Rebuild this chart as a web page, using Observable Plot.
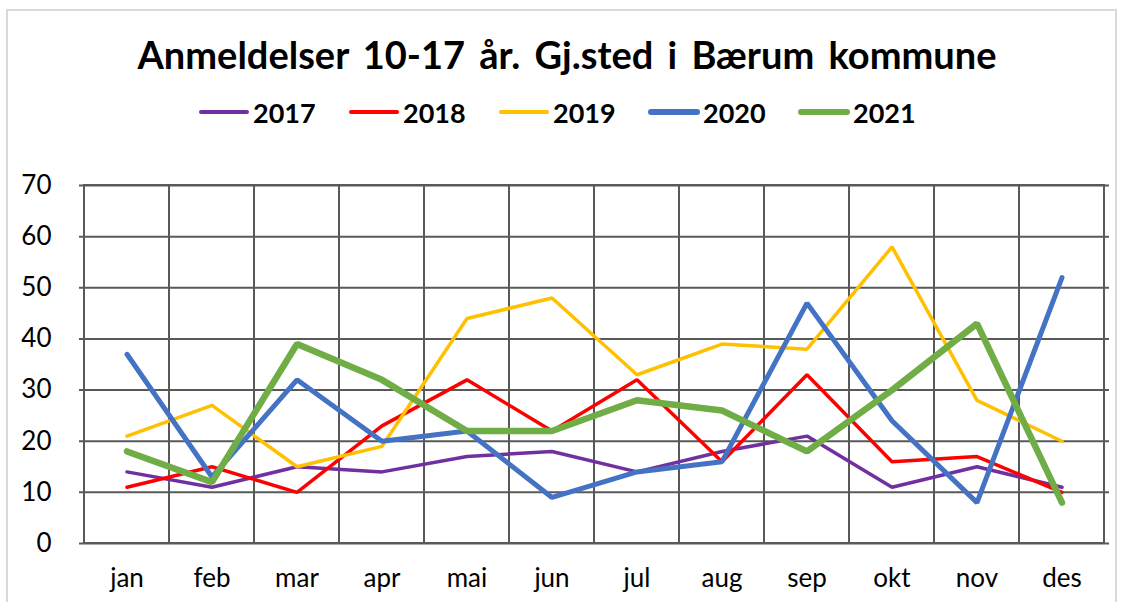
<!DOCTYPE html>
<html>
<head>
<meta charset="utf-8">
<script src="https://cdn.jsdelivr.net/npm/d3@7"></script>
<script src="https://cdn.jsdelivr.net/npm/@observablehq/plot@0.6"></script>
<style>
  html, body { margin: 0; padding: 0; background: #fff; }
  body { width: 1126px; height: 602px; position: relative; overflow: hidden; font-family: Lato, "Open Sans", sans-serif; }
  #frame { position: absolute; left: 6px; top: 9px; width: 1111px; height: 620px; border: 2px solid #d9d9d9; box-sizing: border-box; }
  #title { position: absolute; left: 4px; top: 31px; width: 1126px; text-align: center; font-weight: 700; font-size: 38px; line-height: 46px; word-spacing: 5px; color: #000; }
  #legend { position: absolute; left: 198px; top: 96px; height: 32px; display: flex; align-items: center; }
  .item { display: flex; align-items: center; width: 150px; font-weight: 700; font-size: 27px; color: #000; }
  .item svg { margin-right: 3px; }
  #chart { position: absolute; left: 0; top: 140px; }
  #chart svg text { font-size: 26px !important; fill: #000; }
</style>
</head>
<body>
<div id="frame"></div>
<div id="title">Anmeldelser 10-17 år. Gj.sted i Bærum kommune</div>
<div id="legend"></div>
<div id="chart"></div>
<script>
const months = ["jan", "feb", "mar", "apr", "mai", "jun", "jul", "aug", "sep", "okt", "nov", "des"];
const years = ["2017", "2018", "2019", "2020", "2021"];
const v2017 = [14, 11, 15, 14, 17, 18, 14, 18, 21, 11, 15, 11];
const v2018 = [11, 15, 10, 23, 32, 22, 32, 16, 33, 16, 17, 10];
const v2019 = [21, 27, 15, 19, 44, 48, 33, 39, 38, 58, 28, 20];
const v2020 = [37, 13, 32, 20, 22, 9, 14, 16, 47, 24, 8, 52];
const v2021 = [18, 12, 39, 32, 22, 22, 28, 26, 18, 30, 43, 8];
const yTicks = [0, 10, 20, 30, 40, 50, 60, 70];

const series = [v2017, v2018, v2019, v2020, v2021];
const colors = ["#7030A0", "#FF0000", "#FFC000", "#4472C4", "#70AD47"];
const widths = [3.5, 3.5, 3.5, 5, 6.5];

const data = years.flatMap((yr, i) => series[i].map((v, j) => ({year: yr, month: months[j], value: v})));

// legend
const legend = document.getElementById("legend");
years.forEach((yr, i) => {
  const item = document.createElement("div");
  item.className = "item";
  const lw = i < 3 ? 4 : 6;
  item.innerHTML = `<svg width="52" height="10"><line x1="3" y1="5" x2="49" y2="5" stroke="${colors[i]}" stroke-width="${lw}" stroke-linecap="round"/></svg><span>${yr}</span>`;
  legend.appendChild(item);
});

const grid = "#595959";
const lineMarks = years.map((yr, i) =>
  Plot.line(data.filter(d => d.year === yr), {
    x: "month", y: "value",
    stroke: colors[i], strokeWidth: widths[i],
    strokeLinecap: "round", strokeLinejoin: "miter"
  })
);

const chart = Plot.plot({
  width: 1126,
  height: 462,
  marginLeft: 79,
  marginRight: 17,
  marginTop: 45,
  marginBottom: 59,
  style: {fontFamily: "Lato, 'Open Sans', sans-serif", fontSize: "26px", color: "#000", background: "transparent", overflow: "visible"},
  x: {type: "band", domain: months, padding: 0, label: null, tickSize: 0, tickPadding: 25},
  y: {domain: [0, 70], ticks: yTicks, label: null, tickSize: 0, tickPadding: 28},
  marks: [
    Plot.ruleY(yTicks, {y: d => d, stroke: grid, strokeWidth: 2}),
    Plot.cell(months, {x: d => d, fill: "none", stroke: grid, strokeWidth: 2}),
    ...lineMarks
  ]
});
document.getElementById("chart").appendChild(chart);
</script>
</body>
</html>
